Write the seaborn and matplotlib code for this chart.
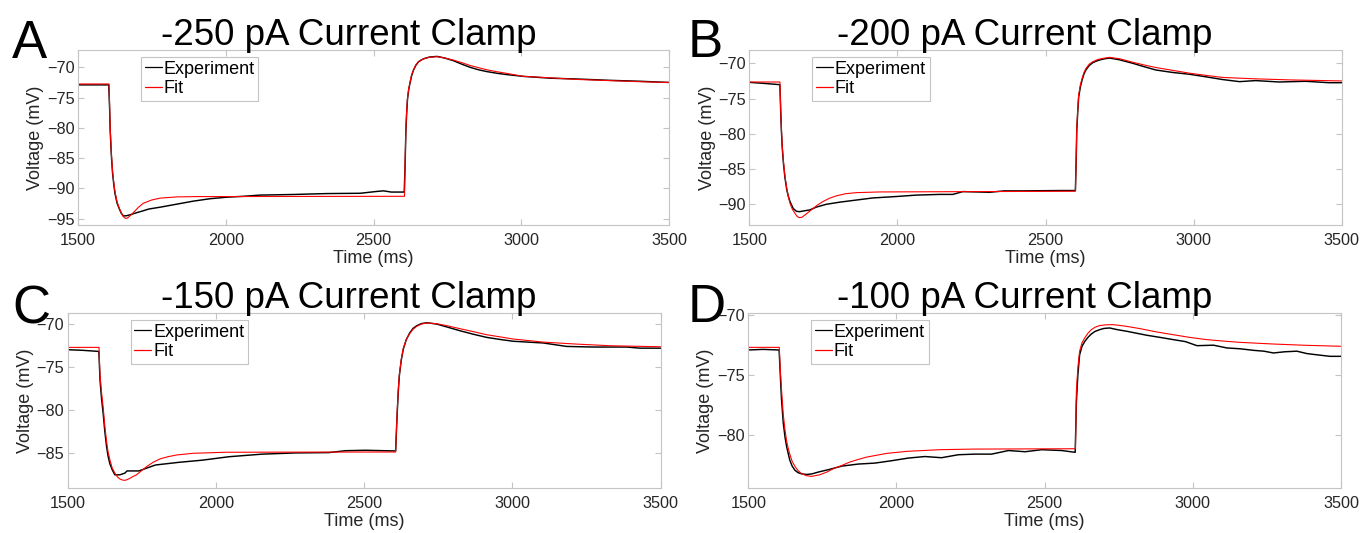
import numpy as np
import pandas as pd
import matplotlib
matplotlib.use("Agg")
import matplotlib.pyplot as plt
import seaborn as sns

# ---------------- data ----------------
titles = ["-250 pA Current Clamp", "-200 pA Current Clamp",
          "-150 pA Current Clamp", "-100 pA Current Clamp"]
letters = ["A", "B", "C", "D"]
series_names = ["Experiment", "Fit"]
x_ticks = [1500, 2000, 2500, 3000, 3500]

# Panel A (-250 pA)
t_exp_A = [1500, 1604, 1607, 1609, 1613, 1617, 1621, 1625, 1632, 1640, 1647, 1654, 1665, 1680,
           1699, 1720, 1740, 1778, 1834, 1890, 1947, 2003, 2060, 2116, 2229, 2342, 2455, 2511,
           2534, 2560, 2604,
           2607, 2609.6, 2612, 2615, 2619, 2624, 2629, 2635, 2643, 2652, 2663, 2675, 2690,
           2715, 2740, 2770, 2800, 2827, 2855, 2883, 2920, 2951, 3008, 3100, 3200, 3300,
           3400, 3500]
v_exp_A = [-72.9, -72.9, -76.8, -80.5, -84.6, -87.5, -89.3, -90.8, -92.4, -93.4, -94.15,
           -94.55, -94.5, -94.3, -94.0, -93.7, -93.4, -93.1, -92.6, -92.1, -91.7, -91.45,
           -91.3, -91.1, -91.0, -90.85, -90.8, -90.5, -90.4, -90.6, -90.6,
           -86.0, -80.5, -77.8, -75.3, -73.7, -72.5, -71.4, -70.5, -69.7, -69.1, -68.75,
           -68.5, -68.3, -68.2, -68.45, -68.9, -69.5, -70.0, -70.4, -70.7, -71.0, -71.2,
           -71.5, -71.8, -71.95, -72.15, -72.3, -72.5]
t_fit_A = [1500, 1605, 1607, 1609, 1613, 1617, 1621, 1625, 1632, 1640, 1647, 1653, 1661,
           1667, 1672, 1680, 1690, 1705, 1721, 1750, 1778, 1834, 1900, 2605,
           2607, 2609.6, 2612, 2615, 2619, 2624, 2629, 2635.5, 2643, 2652.5, 2663, 2675,
           2690, 2714.6, 2740, 2770, 2800, 2827, 2855, 2883, 2920, 2951, 3008, 3087, 3188,
           3301, 3414, 3500]
v_fit_A = [-72.75, -72.75, -76.5, -80.1, -84.3, -87.2, -89.0, -90.5, -92.2, -93.3, -94.1,
           -94.65, -94.95, -94.9, -94.7, -94.35, -93.85, -93.1, -92.45, -91.9, -91.6, -91.4,
           -91.35, -91.3,
           -85.5, -80.07, -77.5, -75.1, -73.6, -72.37, -71.2, -70.44, -69.6, -69.06, -68.75,
           -68.5, -68.35, -68.24, -68.45, -68.8, -69.25, -69.7, -70.05, -70.4, -70.75, -71.0,
           -71.5, -71.7, -72.0, -72.2, -72.4, -72.5]

# Panel B (-200 pA)
t_exp_B = [1500, 1550, 1603, 1605.5, 1608, 1611, 1615, 1620, 1626, 1631, 1637, 1648, 1659,
           1670, 1682, 1704, 1726, 1760, 1805, 1861, 1917, 1996, 2063, 2142, 2187, 2221,
           2311, 2360, 2423, 2547, 2601,
           2603.5, 2605.6, 2609, 2612, 2618, 2624, 2630, 2637, 2648, 2660, 2677, 2694, 2716,
           2750, 2795, 2835, 2873, 2930, 2986, 3040, 3098, 3155, 3210, 3289, 3379, 3457, 3500]
v_exp_B = [-72.7, -72.85, -73.03, -76.5, -79.5, -82.0, -84.2, -86.2, -87.9, -88.8, -89.6,
           -90.6, -91.0, -91.05, -90.95, -90.8, -90.4, -90.0, -89.7, -89.4, -89.1, -88.9,
           -88.7, -88.6, -88.6, -88.2, -88.3, -88.1, -88.1, -88.05, -88.05,
           -84.0, -79.5, -76.8, -74.8, -73.3, -72.3, -71.5, -70.9, -70.3, -69.9, -69.6, -69.4,
           -69.25, -69.5, -70.0, -70.5, -70.95, -71.3, -71.55, -71.9, -72.3, -72.6, -72.45,
           -72.65, -72.55, -72.75, -72.75]
t_fit_B = [1500, 1603, 1605.5, 1608, 1611, 1615, 1620, 1626, 1631, 1637, 1645, 1654, 1661,
           1668, 1677, 1688, 1700, 1715, 1730, 1749, 1770, 1794, 1825, 1861, 1940, 2601,
           2603.5, 2605.6, 2609, 2612, 2618, 2624, 2630, 2637, 2648, 2660, 2677, 2694, 2716,
           2750, 2795, 2835, 2873, 2930, 2986, 3040, 3098, 3150, 3210, 3323, 3500]
v_fit_B = [-72.65, -72.65, -76.2, -79.2, -81.8, -83.95, -86.0, -87.7, -88.8, -89.85, -90.7,
           -91.3, -91.7, -91.9, -91.85, -91.5, -91.1, -90.6, -90.1, -89.6, -89.15, -88.8,
           -88.5, -88.35, -88.25, -88.15,
           -83.5, -79.2, -76.5, -74.5, -73.0, -72.1, -71.3, -70.7, -70.1, -69.76, -69.45,
           -69.3, -69.15, -69.35, -69.85, -70.25, -70.6, -71.0, -71.4, -71.7, -72.0, -72.1,
           -72.2, -72.35, -72.5]

# Panel C (-150 pA)
t_exp_C = [1500, 1550, 1605, 1607, 1609, 1614, 1620, 1625, 1631, 1636, 1642, 1650, 1659,
           1676, 1693, 1700, 1710, 1740, 1760, 1796, 1875, 1954, 2044, 2156, 2269, 2381,
           2437, 2504, 2606,
           2609, 2611.8, 2615, 2618.5, 2625, 2632, 2642, 2654, 2665, 2677, 2693, 2711, 2744,
           2780, 2823, 2870, 2913, 2960, 3003, 3104, 3183, 3273, 3385, 3430, 3500]
v_exp_C = [-72.98, -73.05, -73.18, -74.8, -76.5, -78.6, -80.5, -82.4, -84.2, -85.3, -86.2,
           -86.9, -87.5, -87.5, -87.3, -87.05, -87.05, -87.05, -86.8, -86.36, -86.05, -85.8,
           -85.4, -85.1, -84.96, -84.92, -84.7, -84.65, -84.73,
           -82.2, -80.0, -77.8, -76.0, -74.2, -72.9, -71.8, -71.0, -70.5, -70.2, -69.95,
           -69.85, -70.0, -70.35, -70.78, -71.2, -71.55, -71.8, -72.0, -72.2, -72.6, -72.67,
           -72.67, -72.8, -72.8]
t_fit_C = [1500, 1605.6, 1607, 1609, 1614, 1620, 1625, 1631, 1636, 1642.6, 1650, 1659.5,
           1668, 1676, 1684, 1693, 1701, 1710, 1720, 1732, 1748, 1766, 1788, 1811, 1838,
           1867, 1923, 2036, 2606,
           2609, 2611.8, 2615, 2618.5, 2625, 2632, 2642, 2654.5, 2665, 2677, 2693, 2711,
           2744, 2780, 2823, 2870, 2913, 2960, 3003, 3104, 3217, 3329, 3500]
v_fit_C = [-72.71, -72.71, -74.2, -75.9, -77.9, -79.77, -81.8, -83.6, -84.8, -85.8, -86.7,
           -87.33, -87.75, -87.98, -88.1, -88.14, -88.05, -87.9, -87.7, -87.5, -87.05,
           -86.55, -86.05, -85.66, -85.4, -85.2, -85.0, -84.88, -84.85,
           -82.0, -79.77, -77.6, -75.9, -74.1, -72.8, -71.8, -71.05, -70.6, -70.27, -70.0,
           -69.88, -69.96, -70.2, -70.54, -70.9, -71.24, -71.5, -71.74, -72.1, -72.33,
           -72.52, -72.64]

# Panel D (-100 pA)
t_exp_D = [1500, 1550, 1604, 1608, 1612, 1618, 1624, 1629.5, 1640, 1648, 1657.5, 1668, 1680,
           1697, 1715, 1736, 1770, 1816, 1871, 1927, 1984, 2040, 2096, 2152, 2209, 2265, 2321,
           2378, 2434, 2490, 2558, 2603,
           2605, 2607, 2612, 2618, 2626, 2635, 2646, 2657.6, 2670, 2685.8, 2700, 2719, 2745,
           2778, 2810, 2845, 2890, 2933, 2975, 3014, 3070, 3115, 3160, 3205, 3240, 3272,
           3310, 3351, 3385, 3418, 3463, 3500]
v_exp_D = [-72.9, -72.85, -72.9, -75.0, -77.0, -79.0, -80.2, -81.0, -82.1, -82.6, -82.95,
           -83.15, -83.25, -83.3, -83.25, -83.1, -82.9, -82.6, -82.43, -82.35, -82.15, -81.93,
           -81.8, -81.9, -81.65, -81.6, -81.6, -81.3, -81.4, -81.23, -81.3, -81.45,
           -79.5, -77.3, -75.0, -73.3, -72.6, -72.2, -71.85, -71.56, -71.35, -71.2, -71.1,
           -71.06, -71.2, -71.34, -71.5, -71.67, -71.85, -72.03, -72.2, -72.54, -72.5, -72.73,
           -72.8, -72.93, -73.0, -73.15, -73.05, -73.0, -73.2, -73.3, -73.43, -73.43]
t_fit_D = [1500, 1604.5, 1608, 1612.5, 1618, 1624, 1629.5, 1635, 1640.6, 1648, 1657.5, 1668,
           1680, 1696, 1713.7, 1741.8, 1765, 1786.7, 1815, 1843, 1870, 1899, 1966.6, 2034,
           2146, 2258.6, 2604,
           2605.5, 2607, 2612, 2618, 2626, 2635, 2646, 2657.6, 2670, 2685.8, 2705, 2730.7,
           2770, 2820.7, 2875, 2933, 2990, 3045.5, 3100, 3157.8, 3270, 3382.6, 3500]
v_fit_D = [-72.68, -72.68, -74.6, -76.35, -78.3, -79.6, -80.54, -81.15, -81.65, -82.2,
           -82.63, -82.98, -83.24, -83.4, -83.46, -83.32, -83.1, -82.82, -82.55, -82.26,
           -82.05, -81.85, -81.54, -81.37, -81.23, -81.18, -81.15,
           -78.8, -76.35, -74.4, -73.0, -72.3, -71.9, -71.5, -71.2, -71.0, -70.86, -70.8,
           -70.78, -70.9, -71.11, -71.38, -71.62, -71.85, -72.03, -72.15, -72.26, -72.4,
           -72.51, -72.59]

y_limits = [(-96.04, -67.14), (-92.94, -68.11), (-89.03, -68.72), (-84.43, -69.81)]
y_ticks = [[-95, -90, -85, -80, -75, -70], [-90, -85, -80, -75, -70],
           [-85, -80, -75, -70], [-80, -75, -70]]

panels = [(t_exp_A, v_exp_A, t_fit_A, v_fit_A), (t_exp_B, v_exp_B, t_fit_B, v_fit_B),
          (t_exp_C, v_exp_C, t_fit_C, v_fit_C), (t_exp_D, v_exp_D, t_fit_D, v_fit_D)]

# ---------------- styling / layout ----------------
sns.set_theme(style="white")
plt.rcParams["font.family"] = ["Liberation Sans", "DejaVu Sans"]

W, H = 1362, 533
fig = plt.figure(figsize=(W / 100, H / 100), dpi=100)

# axes boxes in pixels: (left, top, right, bottom)
boxes = [(78, 50, 669, 225), (749.4, 50, 1341.6, 225),
         (67.7, 313, 660.7, 488), (748.3, 313, 1341, 488)]
title_pos = [(348.7, 45), (1025, 45), (348.7, 308), (1025, 308)]
letter_pos = [(12, 58), (688, 57), (12, 323), (688, 322)]

frame_col = "#c4c4c4"
text_col = "#262626"

for i, (te, ve, tf, vf) in enumerate(panels):
    l, t, r, b = boxes[i]
    ax = fig.add_axes([l / W, 1 - b / H, (r - l) / W, (b - t) / H])
    df_e = pd.DataFrame({"Time": te, "Voltage": ve})
    df_f = pd.DataFrame({"Time": tf, "Voltage": vf})
    sns.lineplot(data=df_e, x="Time", y="Voltage", ax=ax, color="black", lw=1.05,
                 label=series_names[0], estimator=None, sort=False)
    sns.lineplot(data=df_f, x="Time", y="Voltage", ax=ax, color="#ff0000", lw=0.8,
                 label=series_names[1], estimator=None, sort=False)
    ax.set_xlim(1500, 3500)
    ax.set_ylim(*y_limits[i])
    ax.set_xticks(x_ticks)
    ax.set_yticks(y_ticks[i])
    ax.tick_params(direction="in", length=4, width=0.8, color=frame_col,
                   labelsize=11.7, labelcolor=text_col, top=True, right=True,
                   bottom=True, left=True)
    ax.tick_params(axis="x", pad=5.5)
    ax.tick_params(axis="y", pad=2.5)
    for s in ax.spines.values():
        s.set_color(frame_col)
        s.set_linewidth(0.8)
        s.set_visible(True)
    ax.set_xlabel("Time (ms)", fontsize=13, color=text_col, labelpad=2)
    ax.set_ylabel("Voltage (mV)", fontsize=13, color=text_col, labelpad=2)
    ax.grid(False)
    aw = r - l
    ah = b - t
    leg = ax.legend(loc="upper left", bbox_to_anchor=(63 / aw, 1 - 7 / ah),
                    borderaxespad=0, frameon=True, fancybox=False, fontsize=13,
                    handlelength=0.95, handletextpad=0.1, borderpad=0.2,
                    labelspacing=0.15)
    leg.get_frame().set_edgecolor(frame_col)
    leg.get_frame().set_linewidth(0.8)
    leg.get_frame().set_alpha(1)
    for line in leg.get_lines():
        line.set_linewidth(0.9)
    for txt in leg.get_texts():
        txt.set_color("black")
    tx, ty = title_pos[i]
    fig.text(tx / W, 1 - ty / H, titles[i], ha="center", va="baseline",
             fontsize=26.5, color="black")
    lx, ly = letter_pos[i]
    fig.text(lx / W, 1 - ly / H, letters[i], ha="left", va="baseline",
             fontsize=38, color="black")

fig.savefig("out.png", dpi=100)
